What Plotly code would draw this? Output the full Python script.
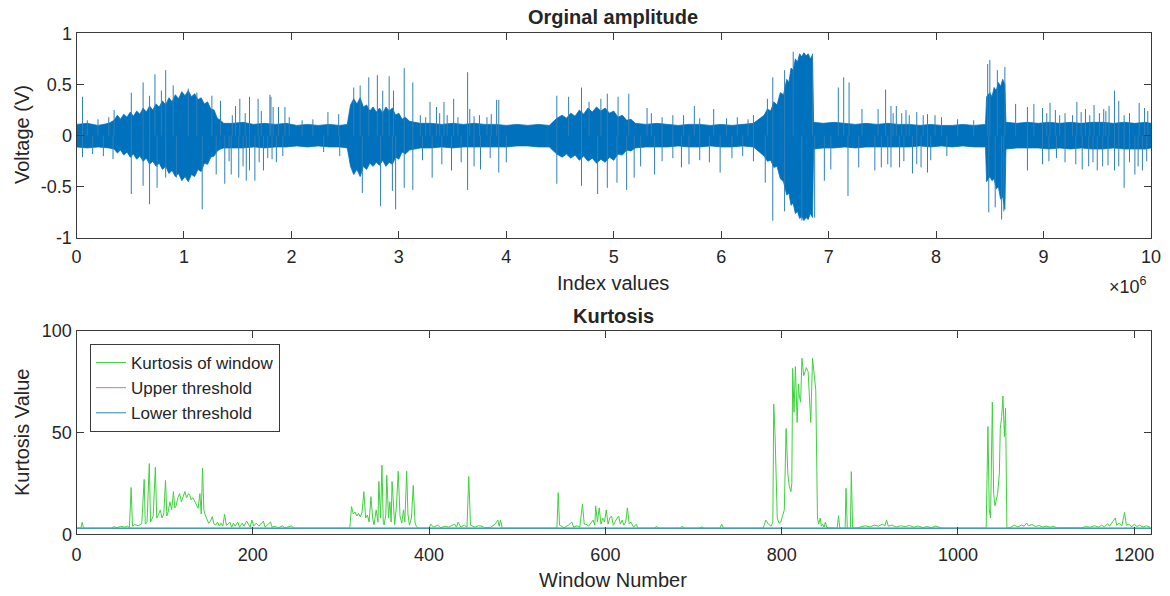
import plotly.graph_objects as go

# ---------------- Top panel: original amplitude (x in units of 1e6 samples) ----------------
# Envelope of the dense noise band
env_x = [0.0, 0.1, 0.2, 0.3,
         0.35, 0.38, 0.41, 0.44, 0.47, 0.50, 0.53, 0.56, 0.59, 0.62, 0.65, 0.68, 0.71, 0.74, 0.77,
         0.80, 0.83, 0.86, 0.89, 0.92, 0.95, 0.98, 1.01, 1.04, 1.07, 1.10, 1.13, 1.16, 1.19, 1.22,
         1.25, 1.28, 1.31, 1.34, 1.37,
         1.45, 1.55, 1.65, 1.75, 1.85, 1.95, 2.05, 2.15, 2.25, 2.35, 2.45, 2.52,
         2.55, 2.58, 2.61, 2.64, 2.67, 2.70, 2.73, 2.76, 2.79, 2.82, 2.85, 2.88, 2.91, 2.94, 2.97,
         3.00, 3.03, 3.06, 3.10, 3.15, 3.20,
         3.3, 3.4, 3.5, 3.6, 3.7, 3.8, 3.9, 4.0, 4.1, 4.2, 4.3, 4.4,
         4.47, 4.52, 4.56, 4.60, 4.64, 4.68, 4.72, 4.76, 4.80, 4.84, 4.88, 4.92, 4.96, 5.00, 5.04,
         5.08, 5.12, 5.16, 5.20,
         5.3, 5.4, 5.5, 5.6, 5.7, 5.8, 5.9, 6.0, 6.1, 6.2, 6.3,
         6.40, 6.43, 6.46, 6.49, 6.52, 6.55, 6.58, 6.61, 6.63, 6.65, 6.67, 6.69, 6.71, 6.73, 6.75,
         6.77, 6.79, 6.81, 6.83, 6.85, 6.86,
         6.95, 7.05, 7.15, 7.25, 7.35, 7.45, 7.55, 7.65, 7.75, 7.85, 7.95, 8.05, 8.15, 8.25, 8.35,
         8.46, 8.47, 8.50, 8.52, 8.54, 8.56, 8.58, 8.60, 8.62, 8.64, 8.65,
         8.75, 8.85, 8.95, 9.05, 9.15, 9.25, 9.35, 9.45, 9.55, 9.65, 9.75, 9.85, 9.95, 10.0]
env_upper = [0.11, 0.12, 0.10, 0.12,
             0.15, 0.20, 0.16, 0.21, 0.18, 0.23, 0.19, 0.24, 0.21, 0.27, 0.23, 0.29, 0.25, 0.31,
             0.28, 0.34, 0.30, 0.37, 0.33, 0.40, 0.36, 0.43, 0.39, 0.44, 0.38, 0.41, 0.35, 0.37,
             0.31, 0.33, 0.26, 0.25, 0.17, 0.15, 0.12,
             0.12, 0.13, 0.11, 0.12, 0.11, 0.12, 0.10, 0.11, 0.10, 0.11, 0.10, 0.11,
             0.30, 0.36, 0.31, 0.37, 0.28, 0.30, 0.24, 0.28, 0.23, 0.27, 0.22, 0.28, 0.24, 0.27,
             0.20, 0.22, 0.16, 0.18, 0.14, 0.13, 0.12,
             0.12, 0.11, 0.12, 0.11, 0.12, 0.11, 0.11, 0.10, 0.11, 0.10, 0.11, 0.10,
             0.17, 0.20, 0.17, 0.22, 0.19, 0.25, 0.21, 0.27, 0.23, 0.28, 0.24, 0.27, 0.22, 0.24,
             0.18, 0.20, 0.15, 0.16, 0.12,
             0.11, 0.12, 0.11, 0.10, 0.11, 0.11, 0.10, 0.11, 0.10, 0.11, 0.12,
             0.20, 0.26, 0.24, 0.33, 0.30, 0.42, 0.40, 0.55, 0.52, 0.66, 0.64, 0.75, 0.72, 0.80,
             0.77, 0.81, 0.78, 0.80, 0.75, 0.79, 0.13,
             0.12, 0.13, 0.12, 0.11, 0.12, 0.11, 0.12, 0.11, 0.11, 0.10, 0.11, 0.10, 0.10, 0.11,
             0.10,
             0.11, 0.38, 0.42, 0.38, 0.47, 0.44, 0.52, 0.48, 0.55, 0.50, 0.13,
             0.12, 0.13, 0.12, 0.13, 0.12, 0.13, 0.12, 0.13, 0.13, 0.12, 0.13, 0.12, 0.13, 0.12]
env_lower = [-0.11, -0.12, -0.11, -0.12,
             -0.13, -0.17, -0.14, -0.19, -0.16, -0.21, -0.18, -0.23, -0.20, -0.25, -0.22, -0.28,
             -0.25, -0.30, -0.27, -0.33, -0.30, -0.37, -0.34, -0.40, -0.37, -0.44, -0.40, -0.45,
             -0.38, -0.40, -0.33, -0.35, -0.27, -0.28, -0.21, -0.20, -0.15, -0.13, -0.12,
             -0.12, -0.12, -0.11, -0.12, -0.11, -0.11, -0.10, -0.11, -0.10, -0.11, -0.11, -0.12,
             -0.30, -0.38, -0.33, -0.40, -0.30, -0.33, -0.27, -0.30, -0.26, -0.29, -0.24, -0.30,
             -0.26, -0.28, -0.21, -0.23, -0.16, -0.18, -0.14, -0.13, -0.12,
             -0.12, -0.11, -0.12, -0.11, -0.11, -0.11, -0.11, -0.11, -0.10, -0.10, -0.11, -0.11,
             -0.18, -0.21, -0.18, -0.22, -0.19, -0.24, -0.20, -0.25, -0.22, -0.27, -0.23, -0.26,
             -0.21, -0.24, -0.18, -0.19, -0.14, -0.15, -0.12,
             -0.11, -0.11, -0.11, -0.10, -0.11, -0.11, -0.10, -0.11, -0.11, -0.10, -0.11,
             -0.20, -0.25, -0.24, -0.31, -0.30, -0.42, -0.45, -0.58, -0.56, -0.68, -0.66, -0.76,
             -0.74, -0.81, -0.79, -0.83, -0.80, -0.82, -0.76, -0.80, -0.13,
             -0.12, -0.12, -0.11, -0.12, -0.11, -0.11, -0.11, -0.11, -0.11, -0.10, -0.11, -0.10,
             -0.11, -0.10, -0.11,
             -0.11, -0.45, -0.40, -0.44, -0.42, -0.52, -0.50, -0.62, -0.60, -0.72, -0.13,
             -0.12, -0.12, -0.12, -0.13, -0.12, -0.13, -0.12, -0.13, -0.13, -0.12, -0.13, -0.13,
             -0.13, -0.12]

# Isolated large spikes (position in 1e6 samples, peak voltage)
spike_pos_x = [0.056, 0.35, 0.51, 0.62, 0.68, 0.73, 0.79, 0.83, 0.90, 1.04, 1.12, 1.26, 1.34, 1.48,
               1.52, 1.61, 1.69, 1.80, 1.81, 1.83, 1.88, 1.94, 2.34, 2.44,
               2.58, 2.64, 2.72, 2.80, 2.85, 2.91, 2.95, 3.05, 3.13, 3.29, 3.35, 3.42, 3.51, 3.64,
               3.66, 3.86, 3.91, 3.93, 4.47, 4.58, 4.70, 4.77, 4.88, 4.94,
               5.04, 5.14, 5.31, 5.75, 5.93, 6.25, 6.43, 6.48, 6.59, 6.67, 6.85, 7.09, 7.14, 7.19,
               7.31, 7.46,
               7.53, 7.58, 7.63, 7.72, 7.82, 7.92, 7.99, 8.48, 8.50, 8.57, 8.64, 8.74, 8.85, 8.91,
               8.99, 9.06, 9.11, 9.31, 9.39, 9.47, 9.56, 9.61, 9.66, 9.70, 9.89, 9.94]
spike_pos_v = [0.38, 0.25, 0.42, 0.52, 0.39, 0.60, 0.44, 0.64, 0.49, 0.46, 0.42, 0.39, 0.34, 0.29,
               0.36, 0.38, 0.36, 0.40, 0.38, 0.28, 0.28, 0.28, 0.23, 0.21,
               0.47, 0.49, 0.57, 0.59, 0.44, 0.58, 0.44, 0.66, 0.52, 0.33, 0.28, 0.33, 0.36, 0.62,
               0.26, 0.21, 0.35, 0.35, 0.39, 0.38, 0.47, 0.33, 0.36, 0.41,
               0.38, 0.41, 0.27, 0.29, 0.26, 0.16, 0.36, 0.57, 0.64, 0.82, 0.80, 0.47, 0.57, 0.52,
               0.26, 0.26,
               0.45, 0.29, 0.29, 0.25, 0.23, 0.21, 0.20, 0.70, 0.74, 0.64, 0.67, 0.31, 0.28, 0.31,
               0.27, 0.32, 0.25, 0.33, 0.26, 0.30, 0.26, 0.29, 0.44, 0.34, 0.32, 0.27]
spike_neg_x = [0.056, 0.34, 0.51, 0.62, 0.68, 0.75, 0.83, 0.93, 1.17, 1.30, 1.38, 1.44, 1.51, 1.58,
               1.61, 1.66, 1.74, 1.82, 1.86,
               2.66, 2.83, 2.94, 2.97, 3.05, 3.13, 3.31, 3.49, 3.64, 3.76, 3.93, 4.00, 4.47, 4.70,
               4.85, 4.94,
               5.03, 5.12, 5.19, 5.38, 5.63, 5.89, 5.99, 6.41, 6.48, 6.59, 6.75, 6.87, 6.96, 7.02,
               7.18, 7.28, 7.43,
               7.49, 7.58, 7.66, 7.78, 7.86, 7.92, 8.49, 8.55, 8.61, 8.63, 8.85, 8.99, 9.36, 9.50,
               9.66, 9.75, 9.85, 9.92]
spike_neg_v = [-0.21, -0.23, -0.57, -0.49, -0.67, -0.51, -0.41, -0.41, -0.72, -0.38, -0.47, -0.38,
               -0.41, -0.44, -0.34, -0.44, -0.34, -0.23, -0.26,
               -0.56, -0.69, -0.54, -0.72, -0.51, -0.53, -0.41, -0.34, -0.53, -0.33, -0.36, -0.26,
               -0.47, -0.49, -0.57, -0.51,
               -0.46, -0.53, -0.41, -0.38, -0.31, -0.26, -0.36, -0.46, -0.83, -0.74, -0.83, -0.80,
               -0.44, -0.33, -0.59, -0.31, -0.34,
               -0.31, -0.31, -0.31, -0.37, -0.31, -0.36, -0.75, -0.70, -0.82, -0.74, -0.34, -0.28,
               -0.33, -0.34, -0.34, -0.51, -0.38, -0.34]

# Smaller spikes just above / below the band
small_spike_x = [0.10, 0.20, 0.30, 1.45, 1.57, 1.72, 1.98, 2.10, 2.20, 3.20, 3.25, 3.38, 3.45, 3.55,
                 3.70, 3.75, 3.82, 5.35, 5.45, 5.55, 5.65, 5.80, 6.05, 6.15, 6.30, 7.60, 7.68,
                 7.75, 7.88, 8.05, 8.20, 8.35, 9.03, 9.15, 9.20, 9.27, 9.35, 9.43, 9.52, 9.58,
                 9.75, 9.80, 9.97,
                 0.15, 0.25, 1.42, 1.55, 1.70, 1.78, 1.92, 2.30, 2.45, 3.22, 3.40, 3.58, 3.70,
                 3.85, 5.25, 5.45, 5.55, 5.70, 5.80, 6.10, 6.20, 6.30, 7.55, 7.70, 7.82, 7.95,
                 8.10, 9.05, 9.12, 9.20, 9.30, 9.42, 9.46, 9.55, 9.60, 9.70, 9.80, 9.88, 9.96]
small_spike_v = [0.15, 0.16, 0.18, 0.20, 0.22, 0.24, 0.18, 0.15, 0.16, 0.20, 0.18, 0.22, 0.20, 0.18,
                 0.19, 0.20, 0.18, 0.22, 0.18, 0.20, 0.20, 0.17, 0.17, 0.18, 0.20, 0.22, 0.22,
                 0.20, 0.20, 0.18, 0.16, 0.15, 0.22, 0.20, 0.22, 0.20, 0.23, 0.20, 0.22, 0.24,
                 0.20, 0.22, 0.24,
                 -0.18, -0.20, -0.25, -0.30, -0.26, -0.22, -0.20, -0.16, -0.20, -0.24, -0.28,
                 -0.26, -0.30, -0.22, -0.30, -0.25, -0.22, -0.28, -0.24, -0.22, -0.20, -0.25,
                 -0.28, -0.25, -0.28, -0.24, -0.20, -0.25, -0.22, -0.26, -0.28, -0.30, -0.26,
                 -0.30, -0.29, -0.30, -0.26, -0.30, -0.25]

top_xticks = [0, 1, 2, 3, 4, 5, 6, 7, 8, 9, 10]
top_yticks = [-1, -0.5, 0, 0.5, 1]
top_yticklabels = ["-1", "-0.5", "0", "0.5", "1"]

# ---------------- Bottom panel: kurtosis per window ----------------
kurt_window = [1, 5, 6.5, 8, 40, 42, 46, 50, 55, 58, 60, 62, 63.5, 66, 70, 74, 76.8, 78, 80, 82.6,
               84, 85.5, 87, 89.5, 91, 93, 95, 97, 99, 101, 102.5, 104, 106, 108, 110, 111.5,
               113, 115, 117, 119, 121, 123, 125, 127, 128.5, 130, 132, 134, 136, 138, 140, 141.5,
               143, 144.5, 146, 148, 150, 152, 154, 156, 158, 160, 162, 164, 166, 168, 170, 171,
               174, 176, 178, 180, 183, 185, 188, 190, 193, 195, 197, 199, 201, 204, 207, 209,
               212, 214, 217, 220, 222, 226, 228, 234, 236, 244, 246, 310, 312, 314, 316, 318,
               320, 322, 324, 326, 328, 330, 332, 334, 336, 337.5, 340, 342, 343, 345, 346.5, 348,
               349, 351, 352, 354, 355.5, 357, 358, 360, 361, 363, 365, 367, 369, 371, 372.5,
               374.6, 376, 377.7, 380, 382, 384, 385.5, 388, 400, 402, 405, 408, 410, 413, 418,
               422, 429, 431, 433, 436, 440, 443, 445, 447, 449, 452, 456, 460, 463, 470, 475, 478,
               479.5, 481, 483, 545, 546.5, 548, 550, 553, 558, 562, 564, 568, 571, 574, 576, 578,
               581, 584, 586, 588, 589, 591, 593, 595, 597, 599, 601, 603, 605, 607, 609, 612, 615,
               617, 619, 621, 623, 625, 627, 629, 632, 635, 637, 656, 658, 660, 685, 687, 689, 705,
               710, 712, 730, 732, 734, 779, 782, 785, 788, 790, 791, 792.5, 794, 795, 797, 799,
               801, 803, 805, 807, 808.5, 810.5, 811.5, 812.5, 814, 815.6, 817.6, 819, 820, 821.5,
               823, 825, 826.5, 828, 830, 832, 833, 835, 837, 838.7, 840.6, 842, 843.8, 845, 846.5,
               848, 849.6, 851, 853, 860, 863, 864.5, 866, 872, 873, 874.5, 878, 879, 880.5, 886,
               890, 895, 900, 905, 910, 914, 917, 919, 921, 925, 930, 935, 940, 945, 950, 955, 960,
               965, 970, 975, 980, 983, 1032, 1034, 1035.5, 1037, 1039, 1040.5, 1042, 1044, 1045,
               1047, 1048, 1049.6, 1051, 1052.7, 1054, 1055.5, 1060, 1064, 1068, 1072, 1075, 1078,
               1080, 1084, 1088, 1092, 1096, 1100, 1105, 1108, 1112, 1140, 1145, 1150, 1155, 1160,
               1163, 1166, 1170, 1172, 1175, 1178.5, 1180, 1183, 1186, 1189, 1191, 1194, 1197,
               1200, 1203, 1206, 1210, 1214, 1218]
kurt_value = [3.0, 3.2, 5.9, 3.0, 3.0, 3.8, 3.2, 3.9, 3.5, 4.0, 3.2, 23, 4.0, 4.8, 4.2, 5.2, 27,
              5.0, 6.0, 34.8, 6, 7.9, 9, 33, 8, 9.5, 12, 8, 10, 26.5, 9, 11, 16, 12, 21, 13, 14,
              18, 20, 16, 19, 21, 18, 20, 19.3, 17, 18, 16, 14, 12.8, 20, 10, 32.5, 12, 9.5, 7,
              5.4, 6.5, 8.7, 5, 4.6, 6, 4, 5.5, 4, 9.8, 4.5, 4.6, 6, 3.5, 5.5, 4, 6, 3.5, 5.5, 4,
              6.5, 5, 3.5, 7, 4, 5.5, 4, 5, 6.5, 3.5, 5, 6, 3.5, 4, 3, 4.2, 3, 4.2, 3, 3, 13.6,
              10, 11, 9, 10.3, 8.5, 11, 21, 8, 9.5, 6, 18.5, 8, 4.6, 12, 6, 26, 8, 34, 6, 4.6, 10,
              29, 8, 16, 6, 26, 8, 4.8, 14, 31, 9, 5.5, 12, 6, 31, 10, 4.5, 8, 24, 6, 3.8, 3, 3,
              5, 3.5, 4.2, 4.5, 3.2, 4, 3.5, 5, 3.5, 6, 3.5, 4.5, 3.5, 28.4, 4.5, 4, 3.5, 4.2, 4,
              3.2, 3.5, 5, 7, 4, 7, 3, 3, 20.5, 4.5, 4, 3.2, 4.5, 6, 3.5, 4.2, 3.5, 15, 5, 5, 4,
              6, 7, 4.5, 14, 6, 13, 5, 8, 6, 12, 5, 8, 9, 4.5, 7, 9, 5, 7, 4.5, 6, 13, 5, 6, 3.5,
              5, 3, 3, 4, 3, 3, 4, 3, 3, 3.6, 3, 3, 5, 3, 3, 7, 5, 4, 6, 64, 49, 12, 8, 5.5, 6, 9,
              12, 52, 30, 24, 21, 25, 81.6, 60, 82.5, 55, 74, 68, 65, 86.6, 78, 80, 82, 80, 65, 55,
              86.6, 78, 71, 8, 5, 8, 4, 5, 3.5, 6, 3.5, 3.2, 3.2, 3, 9.2, 3, 3, 22.6, 3, 3, 30.8,
              3, 3.2, 3.8, 4.2, 3.6, 4.5, 4, 5, 4.2, 7, 4, 4.5, 3.6, 4.2, 3.8, 4.3, 3.5, 4.1, 3.3,
              3.8, 3.2, 4.1, 3.2, 3, 3, 53, 12, 8, 65, 20, 14, 18, 20, 30, 52, 58, 68, 48, 62, 3,
              3.5, 4.5, 3.6, 4.5, 4, 5.5, 4.2, 4.8, 3.8, 4.3, 3.6, 4, 3.5, 4, 3.2, 3.2, 3.8, 3.5,
              4.2, 3.5, 4.5, 3.6, 5.2, 4, 6, 8, 4.5, 5.5, 4.2, 10.8, 4.5, 5, 3.6, 5, 3.8, 4.5,
              3.6, 4.2, 3.5]
threshold_window = [0, 1219]
upper_threshold = [3.1, 3.1]
lower_threshold = [2.9, 2.9]
bottom_xticks = [0, 200, 400, 600, 800, 1000, 1200]
bottom_yticks = [0, 50, 100]

# ---------------- Figure ----------------
W, H = 1170, 596
BLUE = "#0072BD"
GREEN = "#40D040"
RED = "#D47A7A"
TEAL = "#4A9DB5"
AX = "#3a3a3a"
TXT = "#262626"
FONT = "Liberation Sans, Arial, Helvetica, sans-serif"

fig = go.Figure()

# dense band
fig.add_trace(go.Scatter(
    x=env_x + env_x[::-1], y=env_upper + env_lower[::-1],
    mode="lines", fill="toself", fillcolor=BLUE,
    line=dict(color=BLUE, width=0.8), xaxis="x", yaxis="y",
    showlegend=False, hoverinfo="skip"))

# spikes
sx, sy = [], []
pairs = (list(zip(spike_pos_x, spike_pos_v)) + list(zip(spike_neg_x, spike_neg_v))
         + list(zip(small_spike_x, small_spike_v)))
for px, pv in pairs:
    sx += [px, px, None]
    sy += [0, pv, None]
fig.add_trace(go.Scatter(x=sx, y=sy, mode="lines", line=dict(color="#2f7fb5", width=1),
                         xaxis="x", yaxis="y", showlegend=False, hoverinfo="skip"))

# kurtosis
fig.add_trace(go.Scatter(x=kurt_window, y=kurt_value, mode="lines", name="Kurtosis of window",
                         line=dict(color=GREEN, width=1), xaxis="x2", yaxis="y2"))
fig.add_trace(go.Scatter(x=threshold_window, y=upper_threshold, mode="lines", name="Upper threshold",
                         line=dict(color=RED, width=1), xaxis="x2", yaxis="y2"))
fig.add_trace(go.Scatter(x=threshold_window, y=lower_threshold, mode="lines", name="Lower threshold",
                         line=dict(color=TEAL, width=1.2), xaxis="x2", yaxis="y2"))

xl, xr = 76.5 / W, 1151 / W
axis_common = dict(showline=True, linecolor=AX, linewidth=1, mirror="ticks", ticks="inside",
                   ticklen=7, tickcolor=AX, showgrid=False, zeroline=False, automargin=False,
                   tickfont=dict(family=FONT, size=18, color=TXT))

fig.update_layout(
    width=W, height=H, margin=dict(l=0, r=0, t=0, b=0, autoexpand=False),
    paper_bgcolor="white", plot_bgcolor="white",
    font=dict(family=FONT, color=TXT),
    xaxis=dict(domain=[xl, xr], range=[0, 10], tickvals=top_xticks,
               ticktext=[str(t) for t in top_xticks], anchor="y", ticklabelstandoff=2,
               **axis_common),
    yaxis=dict(domain=[1 - 238 / H, 1 - 33.3 / H], range=[-1, 1], tickvals=top_yticks,
               ticktext=top_yticklabels, anchor="x", **axis_common),
    xaxis2=dict(domain=[xl, xr], range=[0, 1219], tickvals=bottom_xticks,
                ticktext=[str(t) for t in bottom_xticks], anchor="y2", ticklabelstandoff=4,
                **axis_common),
    yaxis2=dict(domain=[1 - 534.3 / H, 1 - 331 / H], range=[0, 100], tickvals=bottom_yticks,
                ticktext=[str(t) for t in bottom_yticks], anchor="x2", **axis_common),
    legend=dict(x=90 / W, y=1 - 344 / H, xanchor="left", yanchor="top",
                bgcolor="white", bordercolor=AX, borderwidth=1,
                font=dict(family=FONT, size=17, color=TXT), tracegroupgap=0),
    showlegend=True,
)

def ann(text, px, py, size, bold=False, angle=0):
    fig.add_annotation(text=f"<b>{text}</b>" if bold else text, x=px / W, y=1 - py / H,
                       xref="paper", yref="paper", showarrow=False, textangle=angle,
                       xanchor="center", yanchor="middle",
                       font=dict(family=FONT, size=size, color=TXT))

ann("Orginal amplitude", 613, 17, 20, bold=True)
ann("Index values", 613, 283, 20)
ann("×10<sup>6</sup>", 1128, 286, 18)
ann("Kurtosis", 613, 316, 20, bold=True)
ann("Window Number", 613, 580, 20)
ann("Voltage (V)", 22, 135, 20, angle=-90)
ann("Kurtosis Value", 22, 433, 20, angle=-90)

fig.write_html("out.html", config={"displayModeBar": False},
               post_script="document.body.style.margin='0px';document.body.style.overflow='hidden';")
